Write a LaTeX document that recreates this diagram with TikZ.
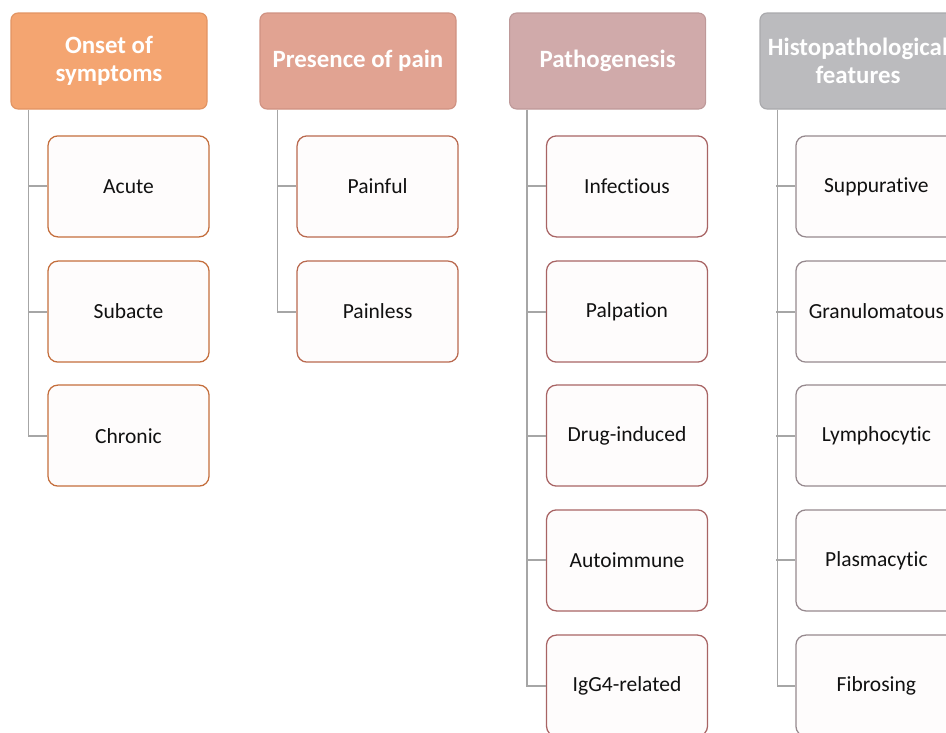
\documentclass[tikz,border=0pt]{standalone}
\usepackage{fontspec}
\setmainfont{Carlito}[Ligatures={NoCommon}]
\usetikzlibrary{calc,positioning}
\definecolor{ink}{HTML}{111111}
\definecolor{stem}{HTML}{A6A6A6}
\definecolor{onsetfill}{HTML}{F4A571}
\definecolor{onsetline}{HTML}{E29463}
\definecolor{onsetedge}{HTML}{C46E3C}
\definecolor{painfill}{HTML}{E1A392}
\definecolor{painline}{HTML}{D09282}
\definecolor{painedge}{HTML}{B9694F}
\definecolor{pathofill}{HTML}{D0AAAA}
\definecolor{patholine}{HTML}{BE9999}
\definecolor{pathoedge}{HTML}{A86464}
\definecolor{histofill}{HTML}{BBBBBE}
\definecolor{histoline}{HTML}{A9A9AC}
\definecolor{histoedge}{HTML}{96898E}
\definecolor{leaffill}{HTML}{FEFCFC}
\newcommand{\leaffont}{\fontsize{15.3}{18}\selectfont}
\newcommand{\headfont}{\fontsize{17.7}{20}\selectfont\bfseries}
\tikzset{
 every node/.append style={align=center},
 head/.style={rounded corners=5pt,line width=.8pt,minimum width=4.9cm,minimum height=2.4cm,inner sep=2pt,font=\headfont,text=white},
 onset/.style={head,draw=onsetline,fill=onsetfill},
 pain/.style={head,draw=painline,fill=painfill},
 patho/.style={head,draw=patholine,fill=pathofill},
 histo/.style={head,draw=histoline,fill=histofill},
 leaf/.style={rounded corners=7pt,line width=.9pt,fill=leaffill,minimum width=4.025cm,minimum height=2.525cm,inner sep=2pt,font=\leaffont,text=ink},
 route/.style={draw=stem,line width=1.3pt},
}

\begin{document}
\begin{tikzpicture}

\useasboundingbox (0,0) rectangle (23.65,-18.3);
% column headers
\node[onset] (onset) at (2.725,-1.525) {Onset of\\symptoms};
\node[pain] (pain) at (8.95,-1.525) {Presence of pain};
\node[patho] (patho) at (15.19,-1.525) {Pathogenesis};
\node[histo] (histo) at (21.45,-1.525) {Histopathological\\features};
% onset of symptoms
\node[leaf,draw=onsetedge] (acute) at (3.2125,-4.66) {Acute};
\node[leaf,draw=onsetedge] (subacute) at (3.2125,-7.79) {Subacte};
\node[leaf,draw=onsetedge] (chronic) at (3.2125,-10.89) {Chronic};
\draw[route] ([xshift=.45cm]onset.south west) |- (chronic.west);
\draw[route] (acute.west) -- ++(-.49,0); \draw[route] (subacute.west) -- ++(-.49,0);
% presence of pain
\node[leaf,draw=painedge] (painful) at (9.44,-4.66) {Painful};
\node[leaf,draw=painedge] (painless) at (9.44,-7.79) {Painless};
\draw[route] ([xshift=.45cm]pain.south west) |- (painless.west);
\draw[route] (painful.west) -- ++(-.49,0);
% pathogenesis
\node[leaf,draw=pathoedge] (infect) at (15.675,-4.66) {Infectious};
\node[leaf,draw=pathoedge] (palp) at (15.675,-7.79) {Palpation};
\node[leaf,draw=pathoedge] (drug) at (15.675,-10.89) {Drug-induced};
\node[leaf,draw=pathoedge] (autoimm) at (15.675,-14.01) {Autoimmune};
\node[leaf,draw=pathoedge] (igg) at (15.675,-17.14) {IgG4-related};
\draw[route] ([xshift=.45cm]patho.south west) |- (igg.west);
\draw[route] (infect.west) -- ++(-.49,0); \draw[route] (palp.west) -- ++(-.49,0);
\draw[route] (drug.west) -- ++(-.49,0); \draw[route] (autoimm.west) -- ++(-.49,0);
% histopathological features
\node[leaf,draw=histoedge] (suppur) at (21.91,-4.66) {Suppurative};
\node[leaf,draw=histoedge] (granul) at (21.91,-7.79) {Granulomatous};
\node[leaf,draw=histoedge] (lympho) at (21.91,-10.89) {Lymphocytic};
\node[leaf,draw=histoedge] (plasma) at (21.91,-14.01) {Plasmacytic};
\node[leaf,draw=histoedge] (fibro) at (21.91,-17.14) {Fibrosing};
\draw[route] ([xshift=.45cm]histo.south west) |- (fibro.west);
\draw[route] (suppur.west) -- ++(-.49,0); \draw[route] (granul.west) -- ++(-.49,0);
\draw[route] (lympho.west) -- ++(-.49,0); \draw[route] (plasma.west) -- ++(-.49,0);

\end{tikzpicture}
\end{document}
